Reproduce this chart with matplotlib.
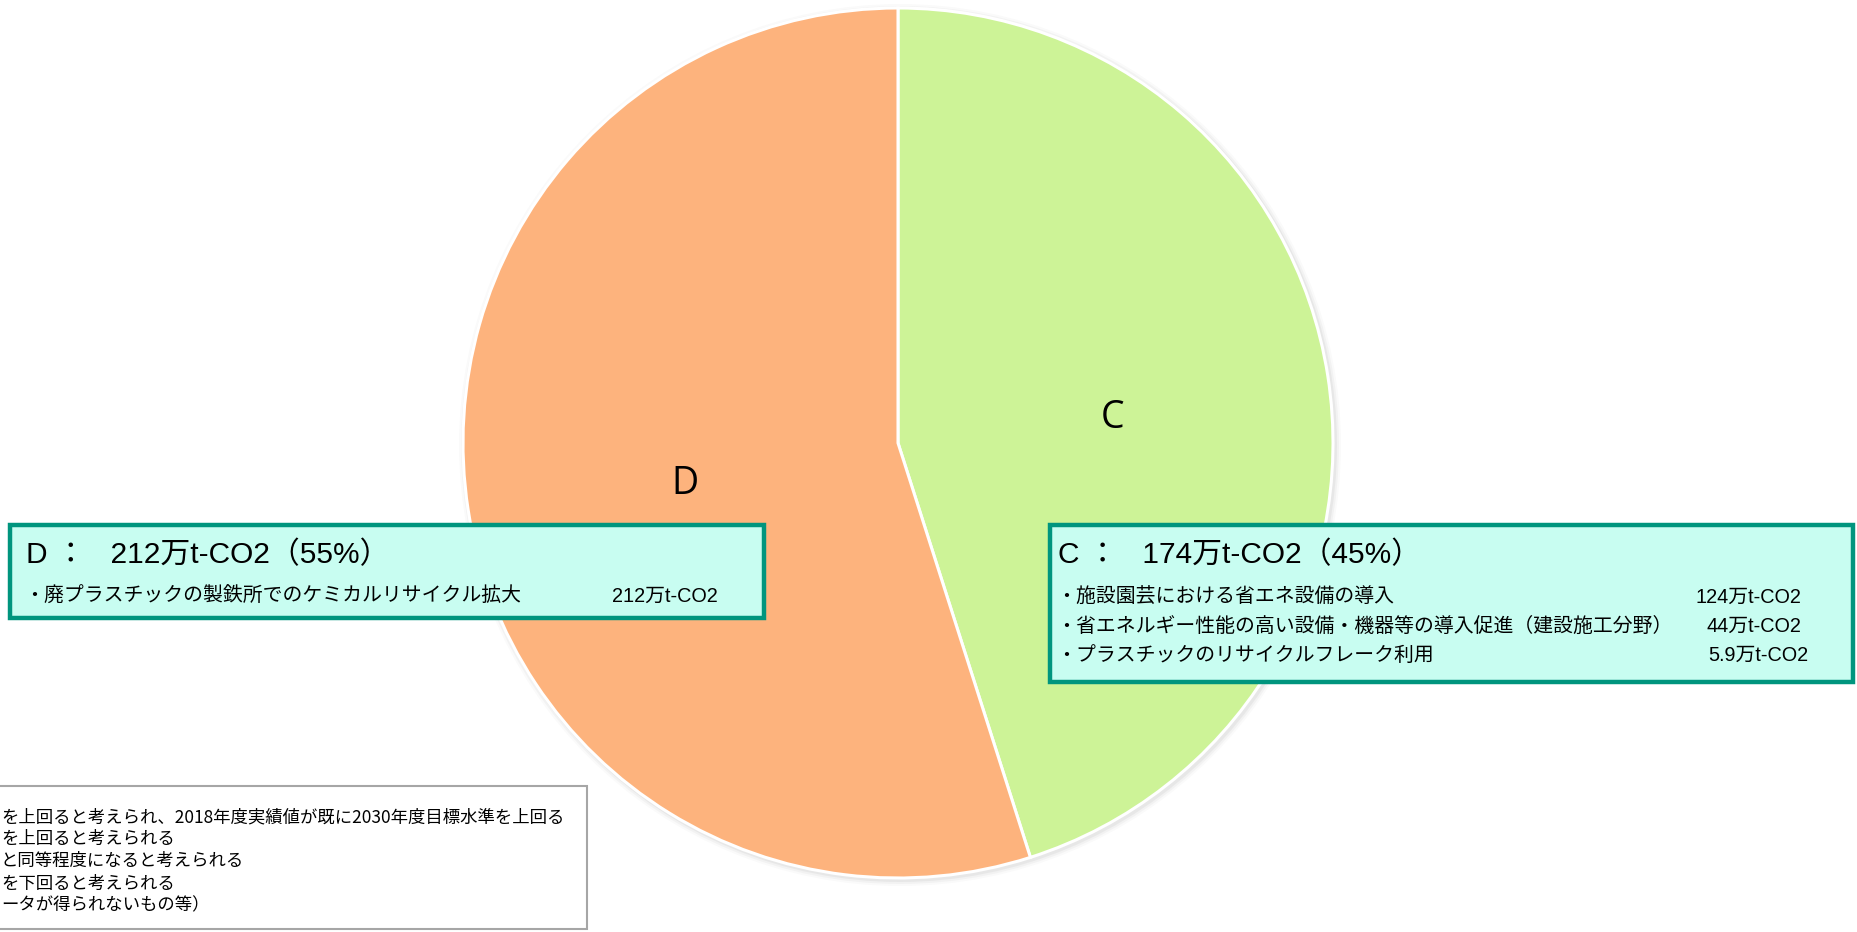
import matplotlib
matplotlib.use("Agg")
import matplotlib.pyplot as plt
from matplotlib.patches import Rectangle, Circle

# Reduction amounts by category (万t-CO2)
categories = ["C", "D"]
values = [174, 212]
shares = ["45%", "55%"]
colors = ["#CDF397", "#FDB37D"]

c_items = [
    "・施設園芸における省エネ設備の導入",
    "・省エネルギー性能の高い設備・機器等の導入促進（建設施工分野）",
    "・プラスチックのリサイクルフレーク利用",
]
c_item_values = ["124万t-CO2", "44万t-CO2", "5.9万t-CO2"]
d_items = ["・廃プラスチックの製鉄所でのケミカルリサイクル拡大"]
d_item_values = ["212万t-CO2"]

legend_lines = [
    "を上回ると考えられ、2018年度実績値が既に2030年度目標水準を上回る",
    "を上回ると考えられる",
    "と同等程度になると考えられる",
    "を下回ると考えられる",
    "ータが得られないもの等）",
]

W, H = 1857, 932
fig = plt.figure(figsize=(W / 100, H / 100), dpi=100)
ax = fig.add_axes([0, 0, 1, 1])

def Y(y):
    return H - y

box_font = ["Liberation Sans", "Noto Sans CJK JP"]
jp_font = ["Noto Sans CJK JP", "DejaVu Sans"]

cx, cy, r = 898, Y(443), 435

# soft shadow around the pie
for k, a in [(6, 0.04), (4, 0.06), (2, 0.09)]:
    ax.add_patch(Circle((cx + 2, cy - 2), r + k, color="#808080", alpha=a, lw=0, zorder=1))

wedges, texts = ax.pie(
    values, labels=categories, colors=colors, startangle=90, counterclock=False,
    center=(cx, cy), radius=r, labeldistance=0.5, frame=True,
    wedgeprops=dict(edgecolor="white", linewidth=2.2),
    textprops=dict(fontsize=27, family=["Open Sans", "DejaVu Sans"], color="black"),
)
for w in wedges:
    w.set_zorder(2)
for t in texts:
    x0, y0 = t.get_position()
    t.set_position((x0 - 12, y0 - 8))
    t.set_zorder(3)
ax.set_xlim(0, W)
ax.set_ylim(0, H)
ax.set_aspect("equal")
ax.axis("off")

box_face = "#C8FDF1"
box_edge = "#00957E"
title_fs = 21.5
body_fs = 14.3

# D summary box
ax.add_patch(Rectangle((10, Y(618)), 754, 93, facecolor=box_face, edgecolor=box_edge,
                       linewidth=3.2, zorder=4))
ax.text(26, Y(555), f"D ：   {values[1]}万t-CO2（{shares[1]}）", fontsize=title_fs,
        family=box_font, va="center", ha="left", zorder=5)
for i, (lab, val) in enumerate(zip(d_items, d_item_values)):
    yy = Y(596 + 29 * i)
    ax.text(24, yy, lab, fontsize=body_fs, family=box_font, va="center", ha="left", zorder=5)
    ax.text(718, yy, val, fontsize=body_fs, family=box_font, va="center", ha="right", zorder=5)

# C summary box
ax.add_patch(Rectangle((1050, Y(682)), 803, 157, facecolor=box_face, edgecolor=box_edge,
                       linewidth=3.2, zorder=4))
ax.text(1058, Y(555), f"C ：   {values[0]}万t-CO2（{shares[0]}）", fontsize=title_fs,
        family=box_font, va="center", ha="left", zorder=5)
c_right = [1801, 1801, 1808]
for i, (lab, val) in enumerate(zip(c_items, c_item_values)):
    yy = Y(597 + 29 * i)
    ax.text(1056, yy, lab, fontsize=body_fs, family=box_font, va="center", ha="left", zorder=5)
    ax.text(c_right[i], yy, val, fontsize=body_fs, family=box_font, va="center", ha="right", zorder=5)

# Category legend box
ax.add_patch(Rectangle((-5, Y(929)), 592, 143, facecolor="white", edgecolor="#A6A6A6",
                       linewidth=1.5, zorder=4))
for i, line in enumerate(legend_lines):
    ax.text(1, Y(817 + 22.2 * i), line, fontsize=12.5, family=jp_font,
            va="center", ha="left", zorder=5)

fig.savefig("out.png", dpi=100, facecolor="white")
